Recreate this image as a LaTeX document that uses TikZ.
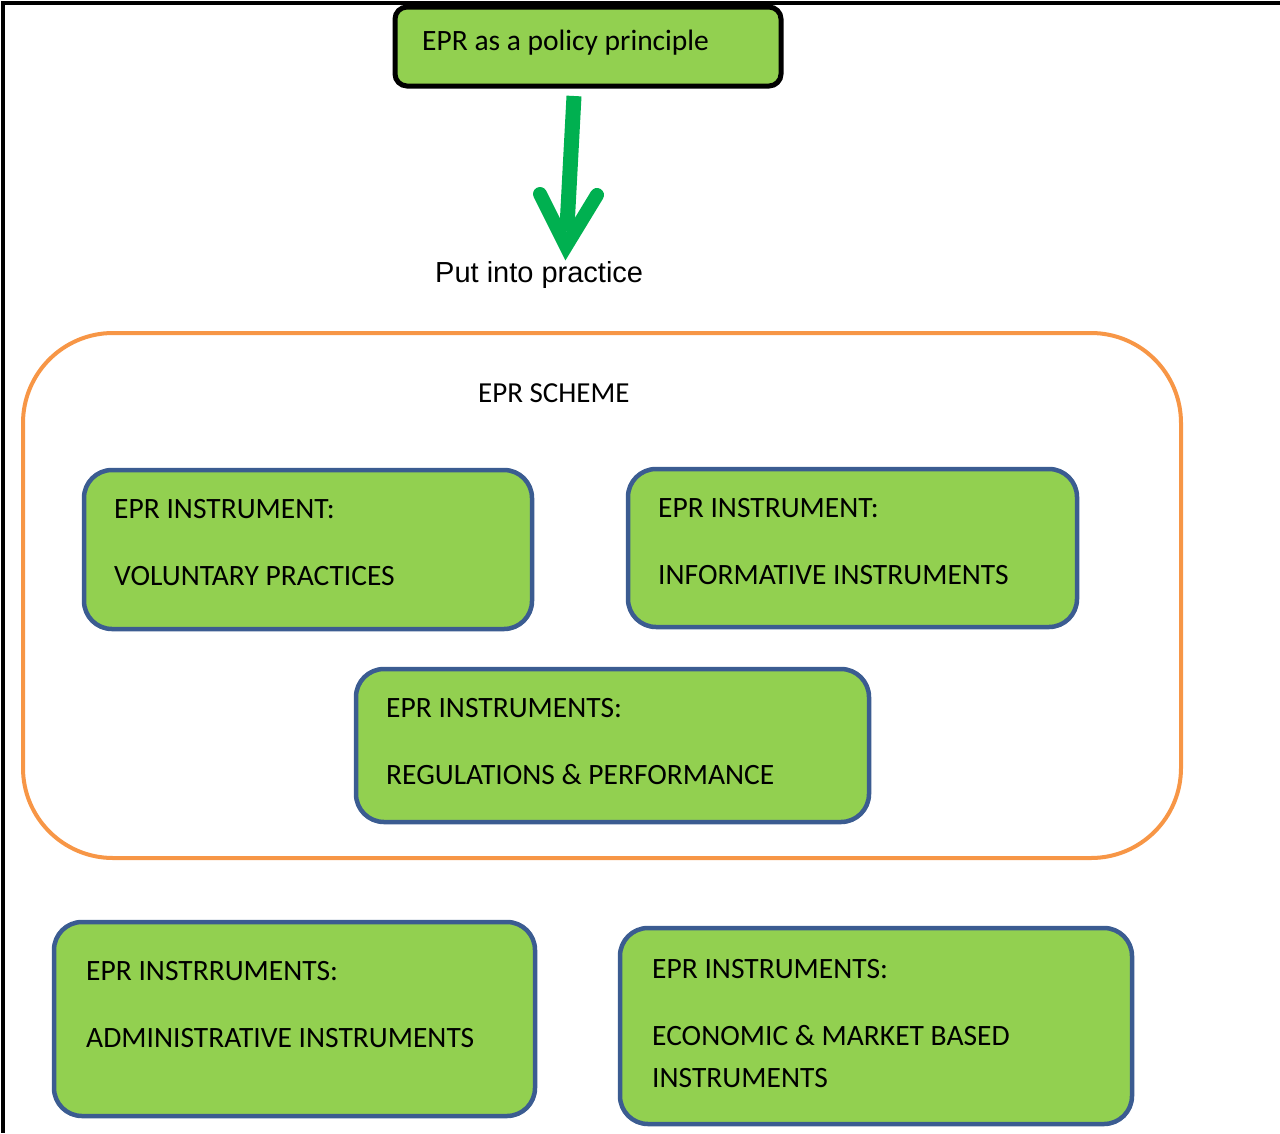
\documentclass[tikz,border=0pt]{standalone}
\usepackage{fontspec}
\usetikzlibrary{calc}
\setmainfont{Carlito}
\newfontfamily\arialfont{Liberation Sans}
\definecolor{leaf}{HTML}{92D050}
\definecolor{arrowgreen}{HTML}{00B050}
\definecolor{schemeorange}{HTML}{F79646}
\definecolor{edgeblue}{HTML}{3B5C91}
\begin{document}
\begin{tikzpicture}[x=1pt,y=-1pt,
  instbox/.style={draw=edgeblue, line width=4.5pt, fill=leaf, rounded corners=28pt, inner sep=0pt},
  policybox/.style={draw=black, line width=5pt, fill=leaf, rounded corners=12pt, inner sep=0pt},
  boxtext/.style={anchor=base west, inner sep=0pt, font=\fontsize{29.5}{34}\selectfont},
  flow/.style={draw=arrowgreen}]
\useasboundingbox (0,0) rectangle (1280,1133);
% page frame (top and left rules)
\draw[line width=4pt] (1280,3) -- (3,3) -- (3,1133);

% policy principle
\node[policybox, minimum width=386pt, minimum height=79pt] (policy) at (588,46.5) {};
\node[boxtext] (policyt) at (422,50) {EPR as a policy principle};

% arrow into practice
\coordinate (shafttop) at (574,96);
\coordinate (tip) at (566,246);
\node[anchor=base west, inner sep=0pt, font=\arialfont\fontsize{29}{34}\selectfont] (practice) at (435,282) {Put into practice};
\draw[flow, line width=15pt] (shafttop) -- ($(shafttop)!0.9!(tip)$);
\draw[flow, line width=14pt, line cap=round, line join=miter] (540,194) -- (tip) -- (597,195);

% scheme container
\node[draw=schemeorange, line width=4pt, rounded corners=90pt, minimum width=1158pt, minimum height=525pt, inner sep=0pt] (scheme) at (602,595.5) {};
\node[boxtext, font=\fontsize{29}{34}\selectfont] (schemet) at (478,402) {EPR SCHEME};

% instruments inside the scheme
\node[instbox, minimum width=448pt, minimum height=159pt] (vol) at (308,549.5) {};
\node[boxtext] at (114,518) {EPR INSTRUMENT:};
\node[boxtext] at (114,585) {VOLUNTARY PRACTICES};

\node[instbox, minimum width=449pt, minimum height=158pt] (info) at (852.5,548) {};
\node[boxtext] at (658,517) {EPR INSTRUMENT:};
\node[boxtext] at (658,584) {INFORMATIVE INSTRUMENTS};

\node[instbox, minimum width=513pt, minimum height=153pt] (reg) at (612.5,745.5) {};
\node[boxtext] at (386,717) {EPR INSTRUMENTS:};
\node[boxtext] at (386,784) {REGULATIONS \& PERFORMANCE};

% instruments outside the scheme
\node[instbox, minimum width=481pt, minimum height=194pt] (admin) at (294.5,1019) {};
\node[boxtext] at (86,980) {EPR INSTRRUMENTS:};
\node[boxtext] at (86,1047) {ADMINISTRATIVE INSTRUMENTS};

\node[instbox, minimum width=512pt, minimum height=196pt] (econ) at (876,1026) {};
\node[boxtext] at (652,978) {EPR INSTRUMENTS:};
\node[boxtext] at (652,1045) {ECONOMIC \& MARKET BASED};
\node[boxtext] at (652,1087) {INSTRUMENTS};
\end{tikzpicture}
\end{document}
